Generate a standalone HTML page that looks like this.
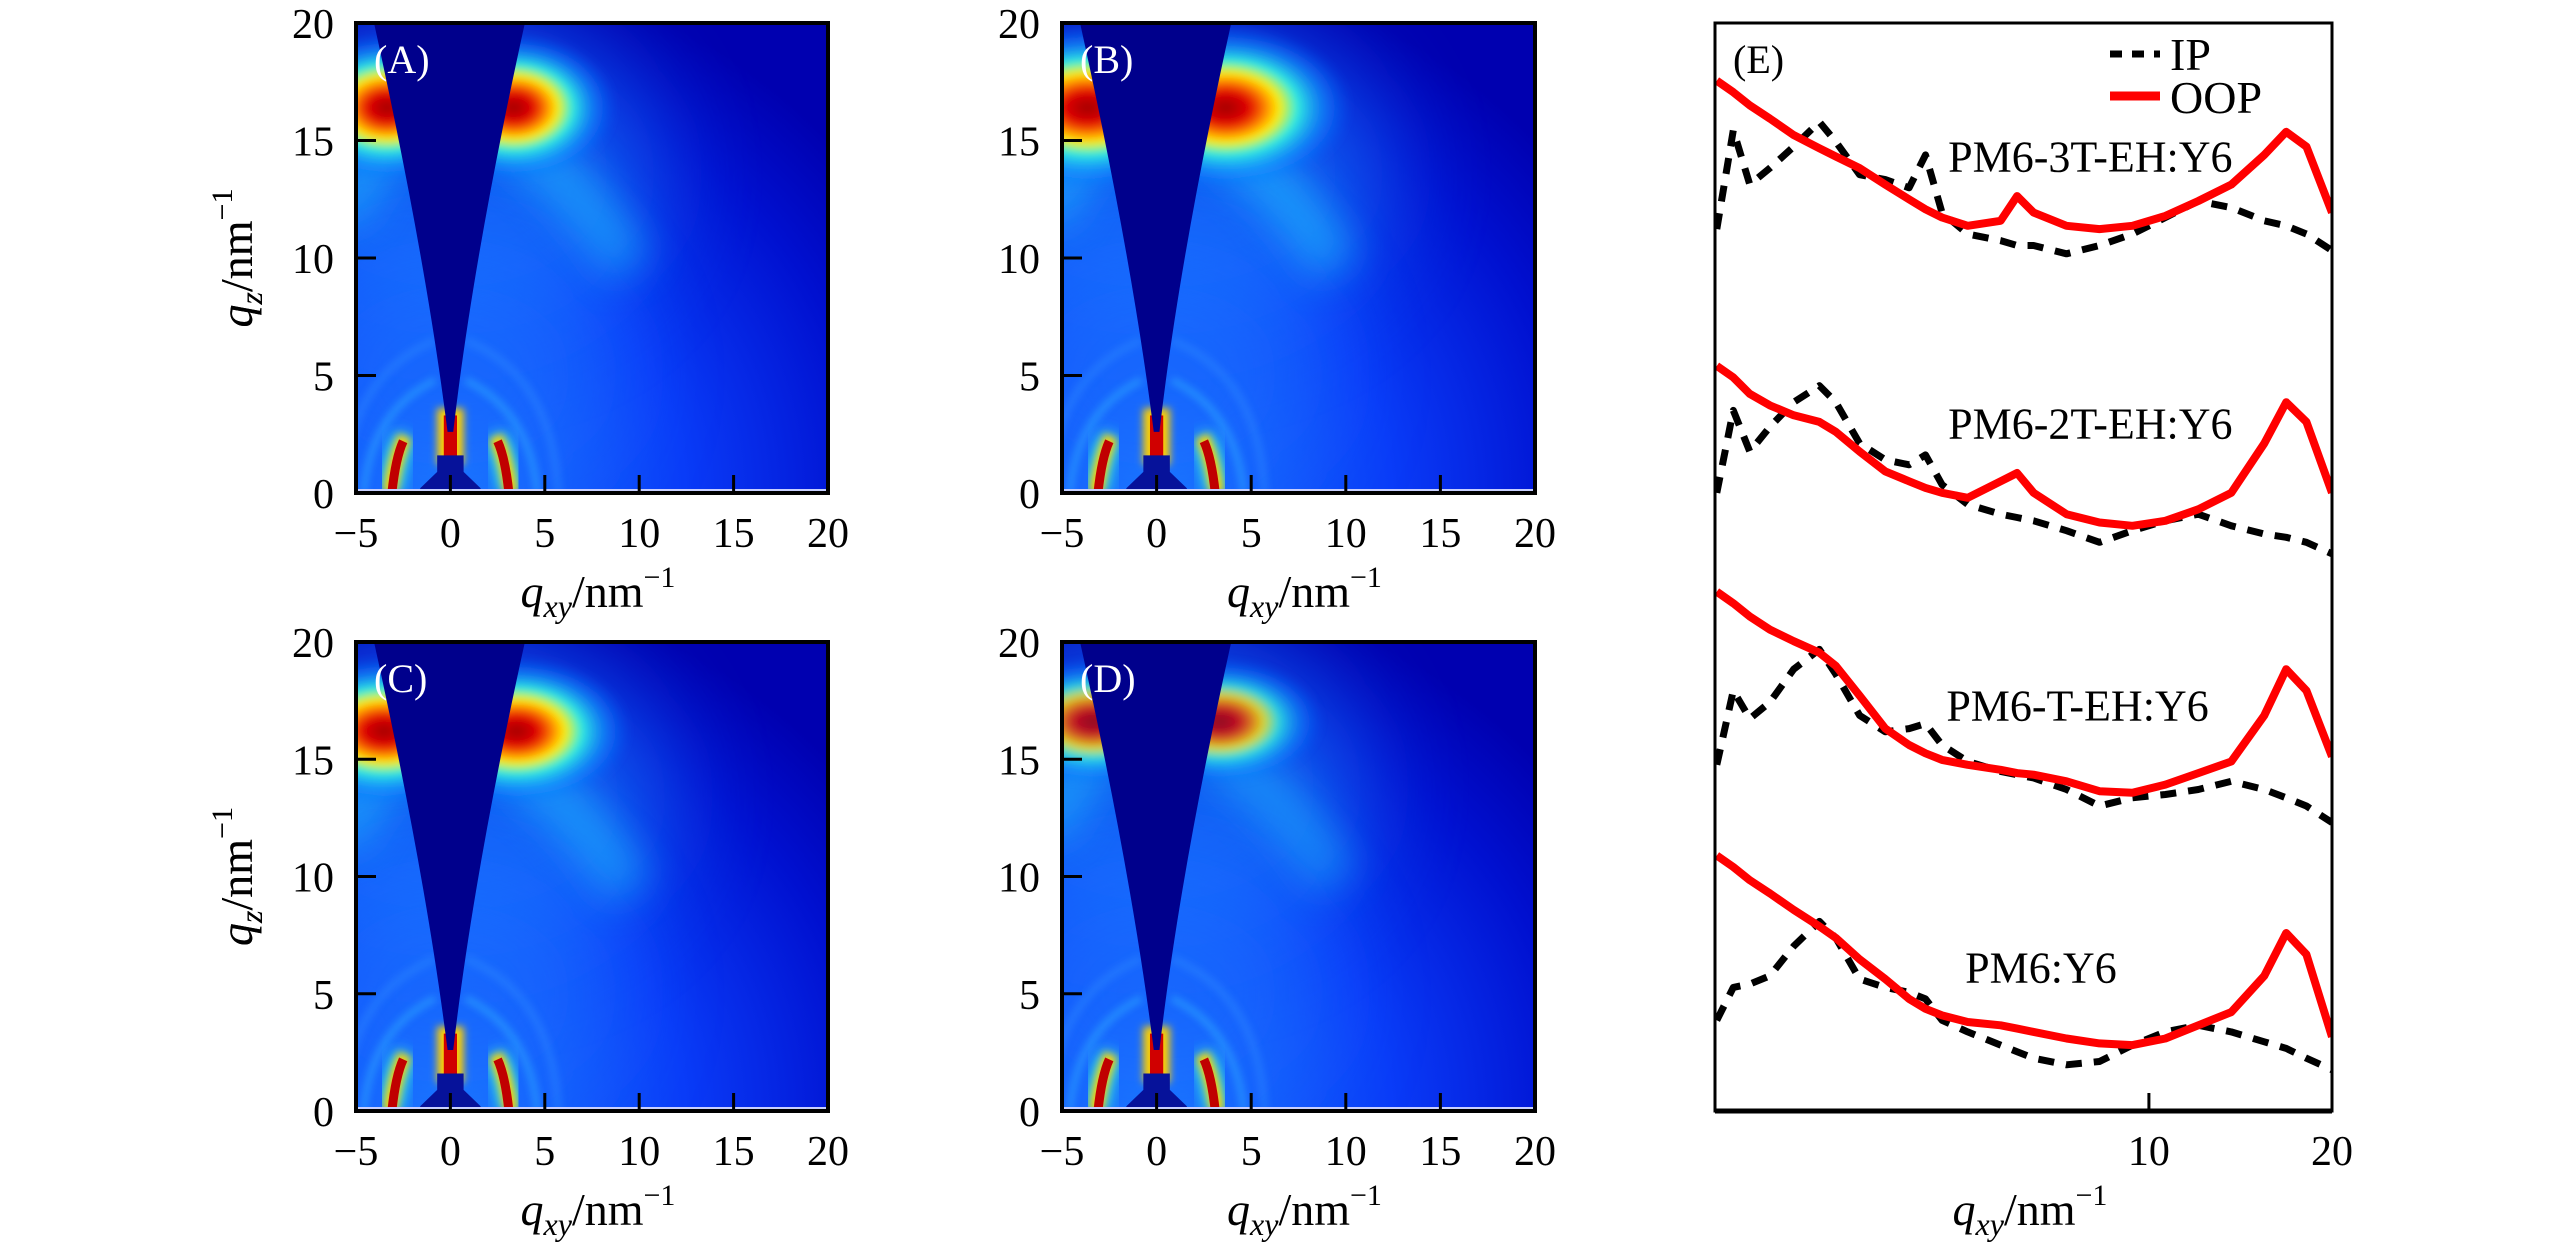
<!DOCTYPE html>
<html><head><meta charset="utf-8">
<style>
html,body{margin:0;padding:0;background:#fff;}
svg{display:block;}
text{font-family:"Liberation Serif","DejaVu Serif",serif;}
</style></head>
<body>
<svg id="fig" width="2567" height="1260" viewBox="0 0 2567 1260" xmlns="http://www.w3.org/2000/svg">
<defs>
<filter id="b8" x="-50%" y="-50%" width="200%" height="200%"><feGaussianBlur stdDeviation="8"/></filter>
<filter id="b20" x="-50%" y="-50%" width="200%" height="200%"><feGaussianBlur stdDeviation="20"/></filter>
<filter id="b50" x="-50%" y="-50%" width="200%" height="200%"><feGaussianBlur stdDeviation="50"/></filter>
<filter id="b4" x="-50%" y="-50%" width="200%" height="200%"><feGaussianBlur stdDeviation="4"/></filter>
<radialGradient id="bg" cx="0.2" cy="1" r="1.1">
<stop offset="0" stop-color="#1a78ff"/><stop offset="0.45" stop-color="#0a3cf8"/><stop offset="0.8" stop-color="#0010d0"/><stop offset="1" stop-color="#0000b0"/>
</radialGradient>
<radialGradient id="hot">
<stop offset="0" stop-color="#a00000"/><stop offset="0.18" stop-color="#e00000"/><stop offset="0.32" stop-color="#ff8a00"/><stop offset="0.42" stop-color="#ffee00"/><stop offset="0.56" stop-color="#30f0e0"/><stop offset="0.78" stop-color="#1090ff" stop-opacity="0.6"/><stop offset="1" stop-color="#1060ff" stop-opacity="0"/>
</radialGradient>
</defs>
</svg>
<script>
// ---------- heatmap feature data (A-D) ----------
const panelLabels = ['(A)','(B)','(C)','(D)'];
const ringQz = [16.6, 16.6, 16.4, 16.8];      // q_z of π–π ring
const ringStrength = [1.0, 1.1, 1.0, 0.85];   // relative intensity
const ringSpread = [3.0, 4.2, 3.6, 3.0];      // extent along q_xy (nm^-1)
const lowArcQ = [3.0, 3.0, 3.0, 3.0];         // lamellar arc q
const xTicks = [-5, 0, 5, 10, 15, 20];
const yTicks = [0, 5, 10, 15, 20];

// ---------- line profile data (E) ----------
const qE = [-13.6,-12.7,-11.8,-10.7,-9.4,-8.0,-7.1,-5.8,-4.4,-3.1,-2.2,-1.3,0.1,1.9,2.8,3.7,5.5,7.3,9.1,10.9,12.7,14.5,16.3,17.5,18.6,20];
const oop3T = [625,618,610,602,592,584,579,572,562,553,547,542,537,540,555,545,537,535,537,543,552,562,580,594,585,545];
const ip3T  = [535,595,562,572,585,600,588,568,565,560,580,545,532,528,525,525,520,525,532,542,552,548,540,537,532,522];
const oop2T = [452,445,435,428,422,418,412,400,388,382,378,375,372,382,387,375,362,357,355,358,365,375,405,430,418,375];
const ip2T  = [375,425,400,415,430,440,430,405,395,392,398,380,368,362,360,358,352,345,352,358,362,355,350,348,345,338];
const oopT  = [315,308,300,292,285,278,270,252,232,222,217,213,210,207,205,204,200,194,193,198,205,212,240,268,255,215];
const ipT   = [210,255,238,248,268,280,265,240,230,232,235,222,212,206,204,202,195,185,190,192,195,200,195,190,185,175];
const oopY6 = [155,148,140,132,122,112,105,92,80,68,62,58,54,52,50,48,44,41,40,44,52,60,82,108,95,45];
const ipY6  = [55,75,77,82,100,115,105,80,75,72,68,55,48,40,36,32,28,30,40,48,52,48,42,38,32,25];
const eXTicks = [10, 20];
const sampleNames = ['PM6-3T-EH:Y6','PM6-2T-EH:Y6','PM6-T-EH:Y6','PM6:Y6'];
const sampleLabelI = [570, 408, 237, 78];
const sampleLabelQ = [6.8, 6.8, 6.1, 4.1];

const NS='http://www.w3.org/2000/svg';
const fig=document.getElementById('fig');
function mk(tag,attrs,parent){const e=document.createElementNS(NS,tag);for(const k in attrs)e.setAttribute(k,attrs[k]);(parent||fig).appendChild(e);return e;}

const panels=[{x0:356,x1:828,y0:23,y1:493},{x0:1062,x1:1535,y0:23,y1:493},{x0:356,x1:828,y0:642,y1:1111},{x0:1062,x1:1535,y0:642,y1:1111}];

panels.forEach((p,i)=>{
  const sx=q=>p.x0+(q+5)/25*(p.x1-p.x0);
  const sy=q=>p.y1-q/20*(p.y1-p.y0);
  const ux=(p.x1-p.x0)/25, uy=(p.y1-p.y0)/20;
  const g=mk('g',{});
  
  
  const cid='clip'+i;
  const cp=mk('clipPath',{id:cid},g); mk('rect',{x:p.x0,y:p.y0,width:p.x1-p.x0,height:p.y1-p.y0},cp);
  const m=mk('g',{'clip-path':'url(#'+cid+')'},g);
  mk('rect',{x:p.x0,y:p.y0,width:p.x1-p.x0,height:p.y1-p.y0,fill:'url(#bg)'},m);
  // diffuse halo around the ring
  mk('ellipse',{cx:sx(0),cy:sy(ringQz[i]-3),rx:ux*(ringSpread[i]+8),ry:uy*7,fill:'#1a8cff',opacity:0.55,filter:'url(#b50)'},m);
  mk('ellipse',{cx:sx(0),cy:sy(5),rx:ux*9,ry:uy*6,fill:'#1a70ff',opacity:0.5,filter:'url(#b50)'},m);
  // cyan tail of ring arc
  mk('path',{d:`M${sx(3)},${sy(ringQz[i]-1.5)} Q${sx(6.5)},${sy(ringQz[i]-3)} ${sx(9.5)},${sy(ringQz[i]-7)}`,stroke:'#20c0ff',fill:'none','stroke-width':50,opacity:0.55*ringStrength[i],filter:'url(#b20)'},m);
  mk('path',{d:`M${sx(-3)},${sy(ringQz[i]-1.5)} Q${sx(-5)},${sy(ringQz[i]-3)} ${sx(-6)},${sy(ringQz[i]-5)}`,stroke:'#20c0ff',fill:'none','stroke-width':50,opacity:0.55,filter:'url(#b20)'},m);
  // π-π ring hot spots
  [-1,1].forEach(s=>{
    mk('ellipse',{cx:sx(s*(2.6+ringSpread[i]*0.25)),cy:sy(ringQz[i]-0.2),rx:ux*(ringSpread[i]+2.5),ry:uy*(3.2*ringStrength[i]),fill:'url(#hot)',opacity:Math.min(1,ringStrength[i]),filter:'url(#b4)'},m);
  });
  // lamellar arcs near bottom
  const r=lowArcQ[i];
  [-1,1].forEach(s=>{
    mk('path',{d:`M${sx(s*(r+0.2))},${sy(0)} Q${sx(s*(r-0.1))},${sy(1.6)} ${sx(s*(r-0.6))},${sy(2.4)}`,stroke:'#30f0e0',fill:'none','stroke-width':22,filter:'url(#b8)'},m);
    mk('path',{d:`M${sx(s*(r+0.2))},${sy(0)} Q${sx(s*(r-0.1))},${sy(1.6)} ${sx(s*(r-0.6))},${sy(2.4)}`,stroke:'#ffd000',fill:'none','stroke-width':14,filter:'url(#b4)'},m);
    mk('path',{d:`M${sx(s*(r+0.1))},${sy(0)} Q${sx(s*(r-0.1))},${sy(1.5)} ${sx(s*(r-0.5))},${sy(2.2)}`,stroke:'#c00000',fill:'none','stroke-width':9},m);
    mk('path',{d:`M${sx(s*(r+1.6))},${sy(0)} Q${sx(s*(r+1.2))},${sy(3.5)} ${sx(s*0.8)},${sy(4.8)}`,stroke:'#30b0ff',fill:'none','stroke-width':6,opacity:0.6,filter:'url(#b4)'},m);
    mk('path',{d:`M${sx(s*(r+2.7))},${sy(0)} Q${sx(s*(r+2.4))},${sy(5)} ${sx(s*0.8)},${sy(6.5)}`,stroke:'#3090ff',fill:'none','stroke-width':6,opacity:0.5,filter:'url(#b4)'},m);
    mk('path',{d:`M${sx(s*(r+0.9))},${sy(0)} L${sx(s*(r+0.9))},${sy(0.6)}`,stroke:'#50f0d0',fill:'none','stroke-width':6,filter:'url(#b4)'},m);
  });
  // specular streak
  mk('rect',{x:sx(-0.7),y:sy(3.6),width:ux*1.4,height:uy*2.4,fill:'#ffd000',filter:'url(#b4)'},m);
  mk('rect',{x:sx(-0.35),y:sy(3.3),width:ux*0.7,height:uy*2.0,fill:'#d00000'},m);
  // beam stop
  mk('path',{d:`M${sx(-0.7)},${sy(1.6)} L${sx(0.7)},${sy(1.6)} L${sx(0.7)},${sy(0.9)} L${sx(1.6)},${sy(0.2)} L${sx(1.6)},${sy(0)} L${sx(-1.6)},${sy(0)} L${sx(-1.6)},${sy(0.2)} L${sx(-0.7)},${sy(0.9)} Z`,fill:'#06129a'},m);
  // missing wedge
  mk('path',{d:`M${sx(-4.1)},${sy(20.2)} L${sx(4.0)},${sy(20.2)} Q${sx(1.2)},${sy(10)} ${sx(0.15)},${sy(2.6)} L${sx(-0.15)},${sy(2.6)} Q${sx(-1.3)},${sy(10)} ${sx(-4.1)},${sy(20.2)} Z`,fill:'#00008c'},m);
  mk('line',{x1:p.x0,x2:p.x1,y1:p.y1-3,y2:p.y1-3,stroke:'#c8d0ff','stroke-width':2},m);
  // frame
  const fr=mk('rect',{x:p.x0,y:p.y0,width:p.x1-p.x0,height:p.y1-p.y0,fill:'none',stroke:'#000','stroke-width':4},g);
  
  
  const lab=mk('text',{x:p.x0+18,y:p.y0+50,fill:'#fff','font-size':40},g); lab.textContent=panelLabels[i];
  
  
  xTicks.forEach(t=>{
    if(t>-5&&t<20) mk('line',{x1:sx(t),x2:sx(t),y1:p.y1,y2:p.y1-18,stroke:'#000','stroke-width':3},g);
    const tx=mk('text',{x:sx(t),y:p.y1+54,'text-anchor':'middle','font-size':42},g); tx.textContent=(t<0?'\u2212':'')+Math.abs(t);
    
    
  });
  yTicks.forEach(t=>{
    if(t>0&&t<20) mk('line',{x1:p.x0,x2:p.x0+20,y1:sy(t),y2:sy(t),stroke:'#000','stroke-width':3},g);
    const ty=mk('text',{x:p.x0-22,y:sy(t)+15,'text-anchor':'end','font-size':42},g); ty.textContent=t;
    
    
  });
  const xt=mk('text',{x:(p.x0+p.x1)/2+6,y:p.y1+114,'text-anchor':'middle','font-size':46},g);
  xt.innerHTML='<tspan font-style="italic">q</tspan><tspan font-style="italic" font-size="32" dy="10">xy</tspan><tspan dy="-10">/nm</tspan><tspan font-size="30" dy="-20">\u22121</tspan>';
  
  
  const cy=(p.y0+p.y1)/2;
  const yt=mk('text',{x:0,y:0,'text-anchor':'middle','font-size':46,transform:`translate(252,${cy}) rotate(-90)`},g);
  yt.innerHTML='<tspan font-style="italic">q</tspan><tspan font-style="italic" font-size="32" dy="10">z</tspan><tspan dy="-10">/nm</tspan><tspan font-size="30" dy="-20">\u22121</tspan>';
  
  
});

// ---------- panel E ----------
const E={x0:1715,x1:2332,y0:23,y1:1111};
const ex=q=>E.x0+(q+13.7)/33.7*(E.x1-E.x0);
const ey=v=>E.y1-v/660*(E.y1-E.y0);
const ge=mk('g',{});


const cpe=mk('clipPath',{id:'clipE'},ge);
mk('rect',{x:E.x0,y:E.y0,width:E.x1-E.x0,height:E.y1-E.y0},cpe);
const lines=mk('g',{'clip-path':'url(#clipE)'},ge);
function pathOf(arr){return arr.map((v,k)=>(k?'L':'M')+ex(qE[k]).toFixed(1)+','+ey(v).toFixed(1)).join(' ');}
const series=[[ip3T,oop3T],[ip2T,oop2T],[ipT,oopT],[ipY6,oopY6]];
series.forEach((s,k)=>{
  const ip=mk('path',{d:pathOf(s[0]),fill:'none',stroke:'#000','stroke-width':7,'stroke-dasharray':'16,12','stroke-linejoin':'round'},lines);
  
  
  const op=mk('path',{d:pathOf(s[1]),fill:'none',stroke:'#f00','stroke-width':8,'stroke-linejoin':'round'},lines);
  
  
  const t=mk('text',{x:ex(sampleLabelQ[k]),y:ey(sampleLabelI[k]),'text-anchor':'middle','font-size':44},ge); t.textContent=sampleNames[k];
  
  
});
const fe=mk('rect',{x:E.x0,y:E.y0,width:E.x1-E.x0,height:E.y1-E.y0,fill:'none',stroke:'#000','stroke-width':3},ge);


mk('line',{x1:E.x0,x2:E.x1,y1:E.y1,y2:E.y1,stroke:'#000','stroke-width':5},ge);
eXTicks.forEach(t=>{
  if(t<20) mk('line',{x1:ex(t),x2:ex(t),y1:E.y1,y2:E.y1-18,stroke:'#000','stroke-width':3},ge);
  const tx=mk('text',{x:ex(t),y:E.y1+54,'text-anchor':'middle','font-size':42},ge); tx.textContent=t;
  
  
});
const le=mk('text',{x:E.x0+18,y:E.y0+50,'font-size':40},ge); le.textContent='(E)';


const xte=mk('text',{x:2030,y:E.y1+114,'text-anchor':'middle','font-size':46},ge);
xte.innerHTML='<tspan font-style="italic">q</tspan><tspan font-style="italic" font-size="32" dy="10">xy</tspan><tspan dy="-10">/nm</tspan><tspan font-size="30" dy="-20">\u22121</tspan>';


// legend
const lg=mk('g',{},ge);


mk('line',{x1:2110,x2:2160,y1:54,y2:54,stroke:'#000','stroke-width':7,'stroke-dasharray':'12,10'},lg);
const l1=mk('text',{x:2170,y:70,'font-size':46},lg); l1.textContent='IP';


mk('line',{x1:2110,x2:2160,y1:96,y2:96,stroke:'#f00','stroke-width':9},lg);
const l2=mk('text',{x:2170,y:113,'font-size':46},lg); l2.textContent='OOP';


</script>
</body></html>
